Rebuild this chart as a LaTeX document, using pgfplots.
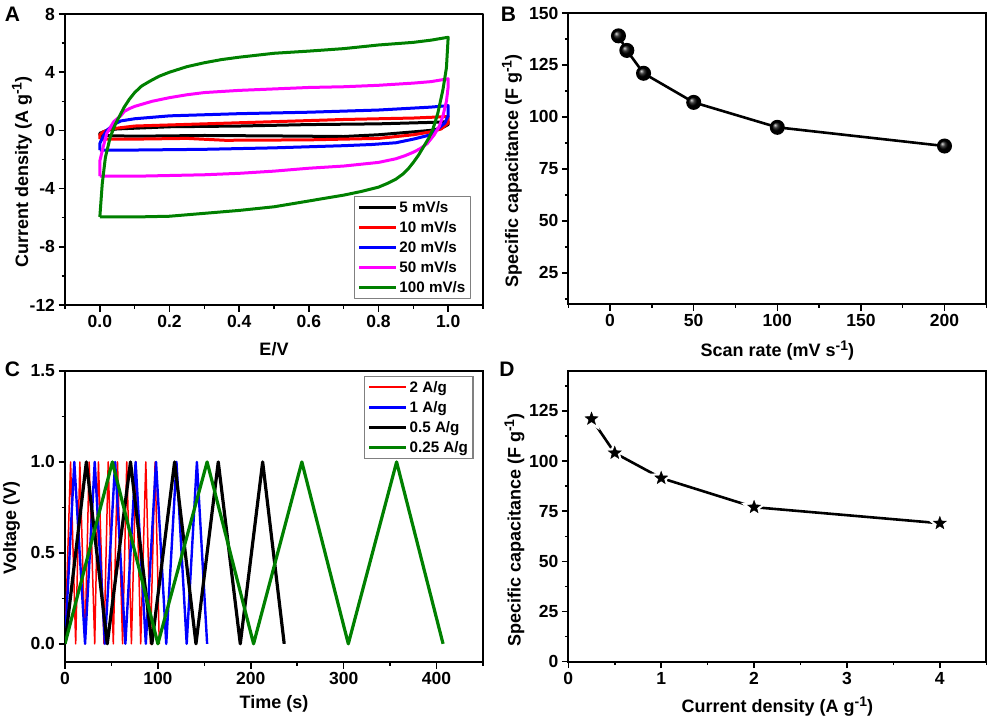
\documentclass[border=0pt]{standalone}
\usepackage{fontspec}
\setmainfont{Liberation Sans}
\usepackage{pgfplots}
\pgfplotsset{compat=1.18}
\usetikzlibrary{plotmarks}
\definecolor{cvgreen}{RGB}{0,128,0}
\definecolor{cvmag}{RGB}{255,0,255}
\newcommand{\supx}[1]{\raisebox{6.5pt}{\fontsize{14}{14}\bfseries\selectfont #1}}
\pgfdeclareplotmark{fstar}{%
  \pgfpathmoveto{\pgfqpointpolar{90}{\pgfplotmarksize}}%
  \pgfpathlineto{\pgfpointpolar{126}{0.42\pgfplotmarksize}}%
  \pgfpathlineto{\pgfqpointpolar{162}{\pgfplotmarksize}}%
  \pgfpathlineto{\pgfpointpolar{198}{0.42\pgfplotmarksize}}%
  \pgfpathlineto{\pgfqpointpolar{234}{\pgfplotmarksize}}%
  \pgfpathlineto{\pgfpointpolar{270}{0.42\pgfplotmarksize}}%
  \pgfpathlineto{\pgfqpointpolar{306}{\pgfplotmarksize}}%
  \pgfpathlineto{\pgfpointpolar{342}{0.42\pgfplotmarksize}}%
  \pgfpathlineto{\pgfqpointpolar{18}{\pgfplotmarksize}}%
  \pgfpathlineto{\pgfpointpolar{54}{0.42\pgfplotmarksize}}%
  \pgfpathclose\pgfusepathqfillstroke}
\pgfplotsset{
  panel/.style={
    scale only axis, width=418pt, height=291pt, anchor=south west,
    axis line style={line width=2.2pt},
    tick pos=lower, tick align=outside,
    major tick length=6.5pt, minor tick length=3.5pt,
    every tick/.style={black,line width=1.5pt},
    tick label style={font=\fontsize{17.5}{19}\bfseries\selectfont},
    xticklabel style={yshift=-0.5pt},
    label style={font=\fontsize{18}{20}\bfseries\selectfont},
    legend cell align=left,
    legend image code/.code={\draw[##1] (0pt,0pt) -- (37pt,0pt);},
    legend style={draw=gray,line width=1.2pt,
      font=\fontsize{15.2}{17}\bfseries\selectfont,
      row sep=3.5pt,inner xsep=3pt,inner ysep=2.5pt},
  }
}
\begin{document}
\begin{tikzpicture}
\path[use as bounding box] (0,0) rectangle (992pt,721pt);

% Panel A
\begin{axis}[panel, at={(65pt,416pt)},
  xmin=-0.1,xmax=1.1,ymin=-12,ymax=8,
  xtick={0,0.2,0.4,0.6,0.8,1},xticklabels={0.0,0.2,0.4,0.6,0.8,1.0},
  minor xtick={-0.1,0.1,0.3,0.5,0.7,0.9,1.1},
  ytick={-12,-8,-4,0,4,8},yticklabels={-12,-8,-4,0,4,8},
  minor ytick={-10,-6,-2,2,6},
  xlabel={E/V},ylabel={Current density (A g\supx{-1})},
  x label style={at={(axis description cs:0.5,-0.151)},anchor=center},
  y label style={at={(axis description cs:-0.103,0.457)},anchor=center},
  legend style={at={(axis description cs:0.691,0.3746)},anchor=north west},
  line join=round]
\addplot[black,line width=3pt] coordinates {(0,-0.35)(0,-0.2)(0.02,0)(0.05,0.1)(0.2,0.25)(0.4,0.3)(0.6,0.4)(0.8,0.45)(0.95,0.55)(1,0.6)(1,0.4)(0.98,0.15)(0.95,0)(0.9,-0.1)(0.8,-0.3)(0.7,-0.42)(0.5,-0.38)(0.3,-0.35)(0.1,-0.4)(0,-0.35)};
\addlegendentry{5 mV/s}
\addplot[red,line width=3pt] coordinates {(0,-0.6)(0,-0.3)(0.01,-0.1)(0.03,0.1)(0.1,0.3)(0.3,0.45)(0.5,0.6)(0.7,0.75)(0.9,0.85)(1,0.95)(1,0.5)(0.98,0.1)(0.95,-0.1)(0.9,-0.3)(0.8,-0.55)(0.6,-0.65)(0.36,-0.68)(0.25,-0.55)(0.1,-0.6)(0,-0.6)};
\addlegendentry{10 mV/s}
\addplot[blue,line width=3pt] coordinates {(0,-1.35)(0,-0.9)(0.01,-0.4)(0.02,0)(0.04,0.4)(0.06,0.65)(0.1,0.8)(0.2,1.0)(0.4,1.15)(0.6,1.25)(0.8,1.4)(0.95,1.6)(1,1.7)(1,1.0)(0.99,0.5)(0.97,0.1)(0.95,-0.3)(0.9,-0.6)(0.85,-0.85)(0.78,-0.97)(0.7,-1.05)(0.5,-1.2)(0.3,-1.3)(0.1,-1.35)(0,-1.35)};
\addlegendentry{20 mV/s}
\addplot[cvmag,line width=3pt] coordinates {(0,-3.15)(0,-2.1)(0.01,-1.1)(0.02,-0.2)(0.04,0.6)(0.06,1.0)(0.07,1.3)(0.085,1.5)(0.1,1.65)(0.15,2.0)(0.2,2.25)(0.25,2.45)(0.3,2.6)(0.4,2.75)(0.5,2.85)(0.6,2.95)(0.7,3.0)(0.8,3.1)(0.9,3.25)(0.95,3.35)(1,3.55)(1,3.0)(0.995,2)(0.985,1)(0.975,0.3)(0.96,-0.3)(0.94,-0.9)(0.92,-1.25)(0.9,-1.5)(0.875,-1.75)(0.85,-1.95)(0.8,-2.2)(0.7,-2.45)(0.6,-2.6)(0.5,-2.8)(0.4,-2.95)(0.3,-3.05)(0.2,-3.1)(0.1,-3.15)(0,-3.15)};
\addlegendentry{50 mV/s}
\addplot[cvgreen,line width=3pt] coordinates {(0,-5.95)(0.007,-3.65)(0.016,-1.85)(0.03,-0.45)(0.045,0.45)(0.07,1.6)(0.085,2.15)(0.1,2.6)(0.12,3.05)(0.145,3.4)(0.17,3.72)(0.2,4.0)(0.25,4.38)(0.3,4.65)(0.35,4.87)(0.4,5.03)(0.5,5.3)(0.6,5.45)(0.7,5.62)(0.8,5.87)(0.9,6.05)(0.95,6.2)(1,6.4)(0.995,4.3)(0.985,2.8)(0.97,1.15)(0.955,0)(0.945,-0.5)(0.93,-1.1)(0.915,-1.7)(0.9,-2.2)(0.885,-2.65)(0.87,-3.0)(0.85,-3.35)(0.825,-3.65)(0.8,-3.9)(0.75,-4.2)(0.7,-4.45)(0.65,-4.65)(0.6,-4.85)(0.5,-5.25)(0.4,-5.5)(0.3,-5.7)(0.2,-5.9)(0.1,-5.95)(0,-5.95)};
\addlegendentry{100 mV/s}
\end{axis}

% Panel B
\begin{axis}[panel, at={(568.3pt,417pt)},
  xmin=-25,xmax=225,ymin=10,ymax=150,
  xtick={0,50,100,150,200},xticklabels={0,50,100,150,200},
  minor xtick={-25,25,75,125,175,225},
  ytick={25,50,75,100,125,150},yticklabels={25,50,75,100,125,150},
  minor ytick={12.5,37.5,62.5,87.5,112.5,137.5},
  xlabel={Scan rate (mV s\supx{-1})},ylabel={Specific capacitance (F g\supx{-1})},
  x label style={at={(axis description cs:0.5,-0.16)},anchor=center},
  y label style={at={(axis description cs:-0.135,0.457)},anchor=center}]
\addplot[black,line width=2.6pt,mark=ball,mark size=6.2pt,mark options={ball color=black}] coordinates {(5,139)(10,132)(20,121)(50,107)(100,95)(200,86)};
\end{axis}

% Panel C
\begin{axis}[panel, at={(65pt,59pt)},
  xmin=0,xmax=450,ymin=-0.1,ymax=1.5,
  xtick={0,100,200,300,400},xticklabels={0,100,200,300,400},
  minor xtick={50,150,250,350,450},
  ytick={0,0.5,1,1.5},yticklabels={0.0,0.5,1.0,1.5},
  minor ytick={0.25,0.75,1.25},
  xlabel={Time (s)},ylabel={Voltage (V)},
  x label style={at={(axis description cs:0.5,-0.144)},anchor=center},
  y label style={at={(axis description cs:-0.128,0.46)},anchor=center},
  legend style={at={(axis description cs:0.715,0.983)},anchor=north west}]
\addplot[color=red,line width=1.5pt,line join=round] coordinates {(0,0)(6,1)(11.5,0)(16,1)(21.5,0)(26,1)(32,0)(36,1)(42,0)(46.5,1)(52,0)(56.5,1)(62,0)(66.5,1)(71.5,0)(76.5,1)(81.5,0)(87,1)(92,0)(97,1)(101.5,0)};
\addlegendimage{color=red,line width=1.9pt}
\addplot[blue,line width=2.4pt,line join=round] coordinates {(0,0)(10,1)(21.6,0)(32,1)(43,0)(54,1)(65,0)(76,1)(87,0)(98,1)(109,0)(120,1)(131,0)(142,1)(153,0)};
\addplot[black,line width=3.2pt,line join=round] coordinates {(0,0)(23,1)(45.5,0)(70.5,1)(93.5,0)(118,1)(141,0)(165,1)(188.7,0)(212.8,1)(236,0)};
\addplot[cvgreen,line width=3.2pt,line join=round] coordinates {(0,0)(51,1)(100,0)(153,1)(203,0)(255,1)(305,0)(357,1)(407,0)};
\legend{,2 A/g,1 A/g,0.5 A/g,0.25 A/g}
\end{axis}

% Panel D
\begin{axis}[panel, at={(568.3pt,59.3pt)},
  xmin=0,xmax=4.5,ymin=0,ymax=145,
  xtick={0,1,2,3,4},xticklabels={0,1,2,3,4},
  minor xtick={0.5,1.5,2.5,3.5,4.5},
  ytick={0,25,50,75,100,125},yticklabels={0,25,50,75,100,125},
  minor ytick={12.5,37.5,62.5,87.5,112.5,137.5},
  xlabel={Current density (A g\supx{-1})},ylabel={Specific capacitance (F g\supx{-1})},
  x label style={at={(axis description cs:0.5,-0.155)},anchor=center},
  y label style={at={(axis description cs:-0.129,0.4526)},anchor=center}]
\addplot[black,line width=2.6pt] coordinates {(0.25,121)(0.5,104)(1,91.5)(2,77)(4,69)};
\addplot[only marks,mark=fstar,mark size=6.8pt,mark options={draw=white,fill=white,line width=5pt}] coordinates {(0.25,121)(0.5,104)(1,91.5)(2,77)(4,69)};
\addplot[only marks,mark=fstar,mark size=6.8pt,mark options={draw=black,fill=black,line width=0.4pt}] coordinates {(0.25,121)(0.5,104)(1,91.5)(2,77)(4,69)};
\end{axis}

\node[font=\fontsize{21}{22}\bfseries\selectfont] at (12.5pt,707pt) {A};
\node[font=\fontsize{21}{22}\bfseries\selectfont] at (508.5pt,707pt) {B};
\node[font=\fontsize{21}{22}\bfseries\selectfont] at (12.5pt,352pt) {C};
\node[font=\fontsize{21}{22}\bfseries\selectfont] at (507pt,352pt) {D};
\end{tikzpicture}
\end{document}
